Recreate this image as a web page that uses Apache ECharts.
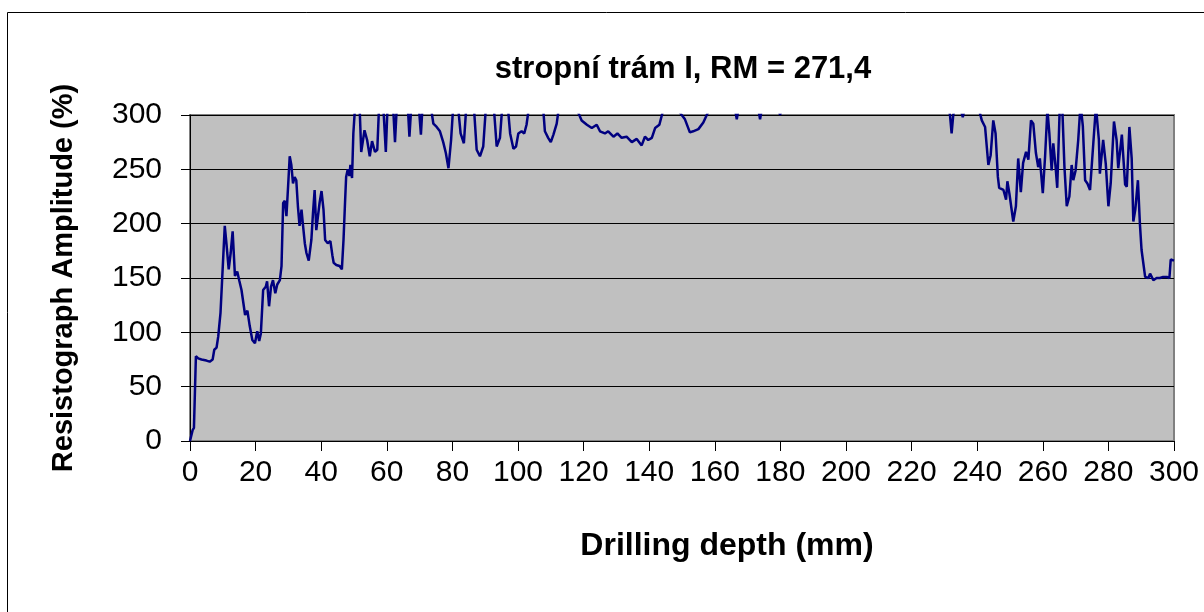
<!DOCTYPE html>
<html>
<head>
<meta charset="utf-8">
<title>stropní trám I</title>
<script src="https://cdn.jsdelivr.net/npm/echarts@6/dist/echarts.min.js"></script>
<style>
    html, body { margin: 0; padding: 0; background: #fff; }
    #chart_1 { width: 1204px; height: 612px; }
</style>
</head>
<body>
<div id="chart_1"></div>
<script>
// hloubka vrtu (mm) a amplituda (%), nad 300 se orizne
var depthMm = [
    0, 0.8, 1.2, 1.8, 2.5, 3.5, 5, 6, 6.9, 7.4, 8.1, 8.6, 9.3, 9.9, 10.6, 11.1, 11.8, 12.4, 13, 13.7,
    14.4, 15, 15.7, 16.2, 16.8, 17.5, 18.2, 19, 19.8, 20.5, 21.1, 21.6, 22.3, 23.1, 23.5, 24.1, 24.7, 25.3, 26, 26.6,
    27.4, 27.9, 28.4, 28.9, 29.4, 29.9, 30.4, 30.9, 31.4, 31.9, 32.4, 32.9, 33.4, 34, 34.4, 35, 35.5, 36.2, 37, 37.5,
    38, 38.5, 39, 39.5, 40.1, 40.7, 41.2, 42, 42.8, 43.4, 43.8, 44.6, 45.6, 46.3, 46.8, 47.3, 47.6, 48.1, 48.6, 48.9,
    49.4, 49.8, 50.8, 51.5, 52.2, 53.2, 54, 54.8, 55.5, 56.4, 57.1, 57.8, 58.8, 59.7, 60.5, 61.7, 62.5, 63.5, 64.8, 66,
    66.9, 67.8, 69.2, 70.4, 71.3, 72.6, 73.7, 74.2, 75.2, 76.2, 77.2, 78, 78.8, 79.6, 80.5, 81.5, 82.5, 83.5, 84.5, 85.5,
    86.5, 87.4, 88.4, 89.4, 90.5, 91.8, 92.8, 93.5, 94.5, 95.5, 96.6, 97.6, 98.6, 99.4, 100.1, 101.1, 101.9, 102.6, 103.7, 105,
    106.5, 107.7, 108.2, 109.2, 110, 110.8, 111.8, 112.6, 114, 115.5, 117, 118.4, 119.4, 121, 122.5, 124, 125, 126.5, 127.5, 129.1,
    130.3, 131.6, 133.1, 134.7, 136.2, 137.7, 138.7, 139.7, 140.8, 141.8, 143.1, 144.3, 145.5, 147, 148.5, 149.4, 150.9, 152.4, 153.4, 155,
    156.5, 158, 159.5, 162, 165, 166.2, 166.7, 167.2, 169, 172, 173.3, 173.8, 174.3, 176, 179, 179.9, 180.8, 185, 190, 195,
    200, 205, 210, 215, 220, 225, 229, 231.2, 231.7, 232.2, 232.7, 233.5, 235, 235.6, 236.2, 238, 240.3, 241.4, 242.4, 243.4,
    244.1, 244.9, 245.6, 246.3, 246.7, 248, 248.8, 249.2, 249.8, 251, 251.8, 252.5, 253.3, 254, 254.9, 255.6, 256.4, 257.1, 257.9, 258.6,
    259.1, 260, 260.7, 261.4, 262, 262.7, 263.2, 263.9, 264.4, 265.2, 265.9, 266.6, 267.3, 268.1, 268.8, 269.3, 270, 270.8, 271.5, 272.2,
    272.9, 273.6, 274.4, 275.4, 276.2, 277.1, 277.4, 278.4, 279.2, 280, 280.7, 281.7, 282.5, 283, 284.1, 285.1, 285.6, 286.4, 287.1, 287.6,
    288.2, 289, 289.6, 290.1, 291.2, 292.2, 292.7, 293.7, 294.7, 295.7, 296.7, 297.8, 298.6, 299, 300
];
var amplitude = [
    0, 10, 12, 78, 76, 75, 74, 73, 75, 84, 86, 96, 118, 155, 198, 182, 158, 173, 193, 152,
    156, 148, 139, 138, 116, 120, 106, 93, 90, 101, 92, 99, 139, 142, 147, 124, 142, 148, 136, 144,
    148, 161, 219, 221, 207, 234, 262, 254, 237, 243, 240, 216, 198, 213, 200, 182, 173, 166, 185, 210,
    231, 194, 193, 219, 230, 213, 185, 182, 184, 171, 164, 162, 161, 158, 185, 222, 243, 250, 244, 254,
    242, 283, 330, 325, 266, 286, 277, 262, 276, 266, 268, 320, 315, 266, 330, 320, 275, 335, 320, 330,
    280, 325, 330, 282, 330, 320, 302, 292, 289, 285, 275, 265, 251, 277, 320, 315, 283, 274, 320, 330,
    310, 268, 262, 271, 320, 330, 300, 271, 279, 320, 318, 283, 269, 271, 283, 285, 283, 291, 315, 330,
    325, 305, 285, 279, 275, 282, 292, 310, 325, 330, 320, 302, 295, 291, 288, 291, 285, 283, 285, 280,
    283, 279, 280, 275, 278, 272, 280, 277, 279, 288, 291, 305, 320, 318, 312, 302, 296, 284, 285, 287,
    293, 303, 320, 335, 320, 305, 296, 305, 325, 320, 305, 296, 305, 325, 310, 300, 310, 330, 340, 335,
    345, 330, 340, 335, 330, 325, 318, 310, 300, 283, 300, 310, 305, 298, 306, 320, 308, 295, 289, 254,
    263, 295, 283, 243, 233, 231, 222, 239, 228, 202, 216, 260, 229, 256, 266, 259, 295, 292, 265, 252,
    260, 228, 262, 305, 283, 249, 274, 252, 233, 310, 310, 252, 216, 225, 254, 240, 249, 277, 310, 290,
    240, 237, 231, 274, 308, 277, 246, 277, 255, 216, 237, 294, 277, 251, 282, 236, 234, 289, 260, 202,
    213, 240, 200, 176, 151, 150, 154, 148, 150, 150, 151, 151, 150, 167, 166
];
var depthTicks = [0, 300, 20];
var amplitudeTicks = [0, 300, 50];

var FONT = 'Arial, "Liberation Sans", sans-serif';

var myChart = echarts.init(document.getElementById('chart_1'));

var points = depthMm.map(function (d, i) {
    return [d, amplitude[i]];
});

var option = {
    backgroundColor: '#ffffff',
    animation: false,
    title: {
        text: 'stropní trám I, RM = 271,4',
        left: 683,
        top: 54,
        padding: 0,
        textAlign: 'center',
        textStyle: {
            fontFamily: FONT,
            fontSize: 31,
            fontWeight: 'bold',
            color: '#000'
        }
    },
    graphic: [
        {
            type: 'rect',
            shape: { x: 7.5, y: 12.5, width: 1220, height: 640 },
            style: { fill: null, stroke: '#000', lineWidth: 1 },
            silent: true
        }
    ],
    grid: {
        left: 190,
        right: 30,
        top: 115,
        bottom: 171,
        show: true,
        backgroundColor: '#c0c0c0',
        borderColor: '#808080',
        borderWidth: 2
    },
    xAxis: {
        type: 'value',
        min: depthTicks[0],
        max: depthTicks[1],
        interval: depthTicks[2],
        name: 'Drilling depth (mm)',
        nameLocation: 'middle',
        nameGap: 89,
        nameTextStyle: {
            fontFamily: FONT,
            fontSize: 32,
            fontWeight: 'bold',
            color: '#000',
            padding: [0, 0, 0, 90]
        },
        axisLine: { show: true, onZero: false, lineStyle: { color: '#000', width: 1 } },
        axisTick: { show: true, inside: false, length: 10, lineStyle: { color: '#000', width: 1 } },
        axisLabel: {
            margin: 17,
            fontFamily: FONT,
            fontSize: 30,
            color: '#000'
        },
        splitLine: { show: false }
    },
    yAxis: {
        type: 'value',
        min: amplitudeTicks[0],
        max: amplitudeTicks[1],
        interval: amplitudeTicks[2],
        name: 'Resistograph Amplitude (%)',
        nameLocation: 'middle',
        nameGap: 112,
        nameTextStyle: {
            fontFamily: FONT,
            fontSize: 29,
            fontWeight: 'bold',
            color: '#000'
        },
        axisLine: { show: true, lineStyle: { color: '#000', width: 1 } },
        axisTick: { show: true, inside: false, length: 9, lineStyle: { color: '#000', width: 1 } },
        axisLabel: {
            margin: 28,
            fontFamily: FONT,
            fontSize: 30,
            color: '#000'
        },
        splitLine: { show: true, lineStyle: { color: '#000', width: 1 } }
    },
    series: [
        {
            name: 'stropní trám I',
            type: 'line',
            data: points,
            showSymbol: false,
            symbol: 'none',
            clip: true,
            lineStyle: { color: '#000080', width: 2.5 },
            itemStyle: { color: '#000080' }
        }
    ]
};

myChart.setOption(option);
window.addEventListener('resize', function () {
    myChart.resize();
});
</script>
</body>
</html>
